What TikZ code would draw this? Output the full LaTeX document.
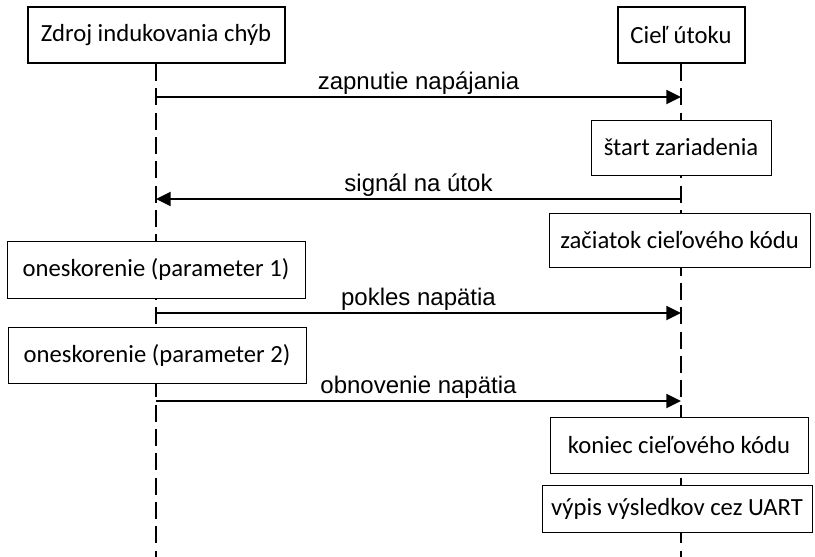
\documentclass[tikz,border=0pt]{standalone}
\usepackage{fontspec}
\setmainfont{Carlito}
\newfontfamily\arialfont{Liberation Sans}
\usetikzlibrary{arrows.meta}
\begin{document}
\begin{tikzpicture}[x=0.75pt,y=-0.75pt,
  headbox/.style={draw, line width=1.5pt, fill=white, inner sep=0pt, minimum height=42pt, font=\fontsize{18.5}{20}\selectfont},
  actbox/.style={draw, line width=0.75pt, fill=white, inner sep=0pt, font=\fontsize{18.5}{20}\selectfont},
  lifeline/.style={line width=1.1pt, dash pattern=on 12.75pt off 5.5pt},
  msg/.style={line width=1.5pt, -{Triangle[length=11pt,width=10.5pt]}},
  lbl/.style={font=\arialfont\fontsize{18}{20}\selectfont, anchor=south, inner sep=1.5pt}]
\useasboundingbox (0,0) rectangle (815,557);
% lifeline ends
\coordinate (aend) at (156,557);
\coordinate (bend) at (681,557);
\node[headbox, minimum width=192.75pt] (src) at (156,35) {Zdroj indukovania chýb};
\node[headbox, minimum width=95.25pt] (tgt) at (681,35) {Cieľ útoku};
\draw[lifeline] (src.south) -- (aend);
\draw[lifeline] (tgt.south) -- (bend);
% lifeline anchor points for messages
\coordinate (a1) at (156,97);  \coordinate (b1) at (681,97);
\coordinate (a2) at (156,199); \coordinate (b2) at (681,199);
\coordinate (a3) at (156,313); \coordinate (b3) at (681,313);
\coordinate (a4) at (156,401); \coordinate (b4) at (681,401);
% activity boxes
\node[actbox, minimum width=135pt, minimum height=41.25pt] (start) at (681,147.5) {štart zariadenia};
\node[actbox, minimum width=195.75pt, minimum height=40.5pt] (zac) at (679.5,240) {začiatok cieľového kódu};
\node[actbox, minimum width=223.5pt, minimum height=42.75pt] (p1) at (156,269.5) {oneskorenie (parameter 1)};
\node[actbox, minimum width=223.5pt, minimum height=42pt] (p2) at (157,355) {oneskorenie (parameter 2)};
\node[actbox, minimum width=193.5pt, minimum height=42pt] (kon) at (679,445) {koniec cieľového kódu};
\node[actbox, minimum width=202.5pt, minimum height=35.25pt] (uart) at (677,508.5) {výpis výsledkov cez UART};
% messages
\draw[msg] (a1) -- (b1) node[lbl, midway] (m1) {zapnutie napájania};
\draw[msg] (b2) -- (a2) node[lbl, midway] (m2) {signál na útok};
\draw[msg] (a3) -- (b3) node[lbl, midway] (m3) {pokles napätia};
\draw[msg] (a4) -- (b4) node[lbl, midway] (m4) {obnovenie napätia};
\end{tikzpicture}
\end{document}
